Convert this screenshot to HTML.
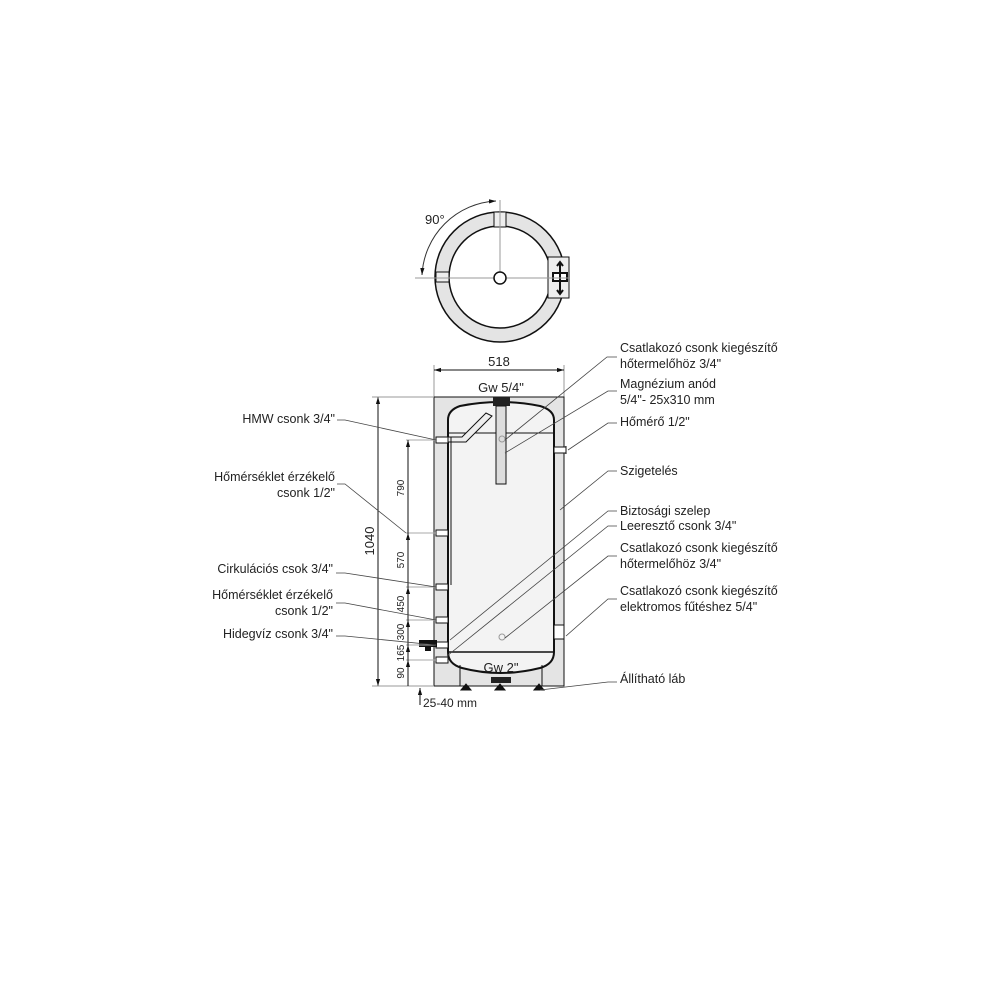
<!DOCTYPE html>
<html><head><meta charset="utf-8"><style>body{margin:0;background:#fff}svg{display:block}text{font-family:"Liberation Sans",sans-serif;fill:#222}</style></head><body>
<svg width="1000" height="1000" viewBox="0 0 1000 1000" xmlns="http://www.w3.org/2000/svg">
<defs><marker id="a" viewBox="0 0 10 10" refX="10" refY="5" markerWidth="7" markerHeight="7" orient="auto-start-reverse"><path d="M0,2 L10,5 L0,8z" fill="#111"/></marker></defs>
<!-- top view -->
<circle cx="500" cy="277" r="58" fill="none" stroke="#e4e4e4" stroke-width="14"/>
<circle cx="500" cy="277" r="65" fill="none" stroke="#111" stroke-width="1.5"/>
<circle cx="500" cy="277" r="51" fill="none" stroke="#111" stroke-width="1.5"/>
<rect x="494" y="212" width="12" height="15" fill="#eee" stroke="#111"/>
<rect x="436" y="272" width="13" height="10" fill="#eee" stroke="#111"/>
<rect x="548" y="257" width="21" height="41" fill="#eee" stroke="#111"/>
<rect x="553" y="273" width="14" height="8" fill="#fff" stroke="#111" stroke-width="2"/>
<path d="M560,263 v30 M557,266 l3,-4 l3,4 M557,290 l3,4 l3,-4" stroke="#111" stroke-width="2" fill="none"/>
<line x1="500" y1="200" x2="500" y2="277" stroke="#999"/>
<line x1="415" y1="278" x2="570" y2="278" stroke="#999"/>
<circle cx="500" cy="278" r="6" fill="#fff" stroke="#111" stroke-width="1.5"/>
<path d="M496,201 A78,78 0 0 0 422,275" fill="none" stroke="#333" marker-start="url(#a)" marker-end="url(#a)"/>
<text x="425" y="224" font-size="13" fill="#555">90°</text>
<!-- 518 dim -->
<line x1="434" y1="365" x2="434" y2="397" stroke="#999"/><line x1="564" y1="365" x2="564" y2="397" stroke="#999"/>
<line x1="434" y1="370" x2="564" y2="370" stroke="#111" marker-start="url(#a)" marker-end="url(#a)"/>
<text x="499" y="366" font-size="13" text-anchor="middle">518</text>
<!-- insulation -->
<rect x="434" y="397" width="130" height="289" fill="#e4e4e4" stroke="#111" stroke-width="1"/>
<path d="M448,652 L448,420 Q448,410 460,406 Q500,398 540,406 Q554,410 554,420 L554,652 Q554,664 540,668 Q500,678 462,668 Q448,664 448,652Z" fill="#f3f3f3" stroke="#111" stroke-width="2"/>
<line x1="448" y1="433" x2="554" y2="433" stroke="#111" stroke-width="1"/>
<line x1="448" y1="652" x2="554" y2="652" stroke="#111" stroke-width="1.5"/>
<rect x="493" y="397" width="17" height="9" fill="#222"/>
<rect x="496" y="406" width="10" height="78" fill="#ddd" stroke="#111"/>
<circle cx="502" cy="439" r="3" fill="none" stroke="#999"/><circle cx="502" cy="637" r="3" fill="none" stroke="#999"/>
<path d="M448,437 L462,437 L486,413 L492,416 L466,442 L448,442" fill="#eee" stroke="#111"/>
<line x1="451" y1="437" x2="451" y2="585" stroke="#111"/>
<text x="501" y="672" font-size="13" text-anchor="middle">Gw 2"</text>
<text x="501" y="392" font-size="13" text-anchor="middle">Gw 5/4"</text>
<rect x="491" y="677" width="20" height="6" fill="#222"/>
<line x1="460" y1="665" x2="460" y2="686" stroke="#111"/><line x1="542" y1="665" x2="542" y2="686" stroke="#111"/>
<path d="M461,690 l5,-6 l5,6z M495,690 l5,-6 l5,6z M534,690 l5,-6 l5,6z" fill="#111" stroke="#111"/>
<!-- ports -->
<g fill="#fff" stroke="#111">
<rect x="436" y="437" width="12" height="6"/><rect x="436" y="530" width="12" height="6"/><rect x="436" y="584" width="12" height="6"/>
<rect x="436" y="617" width="12" height="6"/><rect x="436" y="642" width="12" height="6"/><rect x="436" y="657" width="12" height="6"/>
<rect x="554" y="447" width="12" height="6"/><rect x="554" y="625" width="10" height="14"/>
</g>
<rect x="419" y="640" width="18" height="7" fill="#111"/><rect x="425" y="646" width="6" height="5" fill="#111"/>
<line x1="566" y1="446" x2="566" y2="454" stroke="#111"/>
<!-- dims left -->
<line x1="378" y1="397" x2="378" y2="686" stroke="#111" marker-start="url(#a)" marker-end="url(#a)"/>
<text transform="translate(374,541) rotate(-90)" font-size="13" text-anchor="middle">1040</text>
<line x1="372" y1="397" x2="434" y2="397" stroke="#999"/><line x1="372" y1="686" x2="434" y2="686" stroke="#999"/>
<g stroke="#aaa"><line x1="406" y1="440" x2="436" y2="440"/><line x1="406" y1="533" x2="436" y2="533"/><line x1="406" y1="587" x2="436" y2="587"/><line x1="406" y1="620" x2="436" y2="620"/><line x1="406" y1="645" x2="436" y2="645"/><line x1="406" y1="660" x2="436" y2="660"/></g>
<g stroke="#111" marker-start="url(#a)"><line x1="408" y1="440" x2="408" y2="533"/><line x1="408" y1="533" x2="408" y2="587"/><line x1="408" y1="587" x2="408" y2="620"/><line x1="408" y1="620" x2="408" y2="645"/><line x1="408" y1="645" x2="408" y2="660"/><line x1="408" y1="660" x2="408" y2="686"/></g>
<g font-size="10"><text transform="translate(404,488) rotate(-90)" text-anchor="middle">790</text><text transform="translate(404,560) rotate(-90)" text-anchor="middle">570</text><text transform="translate(404,604) rotate(-90)" text-anchor="middle">450</text><text transform="translate(404,632) rotate(-90)" text-anchor="middle">300</text><text transform="translate(404,653) rotate(-90)" text-anchor="middle">165</text><text transform="translate(404,673) rotate(-90)" text-anchor="middle">90</text></g>
<line x1="420" y1="688" x2="420" y2="705" stroke="#111" marker-start="url(#a)"/>
<text x="423" y="707" font-size="12">25-40 mm</text>
<!-- left labels -->
<g font-size="12.5" text-anchor="end"><text x="335" y="423">HMW csonk 3/4"</text><text x="335" y="481">Hőmérséklet érzékelő</text><text x="335" y="497">csonk 1/2"</text><text x="333" y="573">Cirkulációs csok 3/4"</text><text x="333" y="599">Hőmérséklet érzékelő</text><text x="333" y="615">csonk 1/2"</text><text x="333" y="638">Hidegvíz csonk 3/4"</text></g>
<g stroke="#444" fill="none" stroke-width="0.8"><polyline points="337,420 345,420 436,440"/><polyline points="337,484 345,484 406,533"/><polyline points="336,573 345,573 436,587"/><polyline points="336,603 345,603 436,620"/><polyline points="336,636 345,636 436,645"/>
<polyline points="617,357 607,357 505,440"/><polyline points="617,391 608,391 505,453"/><polyline points="617,423 608,423 568,450"/><polyline points="617,471 608,471 560,510"/><polyline points="617,511 608,511 450,640"/><polyline points="617,526 608,526 447,656"/><polyline points="617,556 608,556 505,638"/><polyline points="617,599 608,599 566,636"/><polyline points="617,682 608,682 540,690"/></g>
<g font-size="12.5"><text x="620" y="352">Csatlakozó csonk kiegészítő</text><text x="620" y="368">hőtermelőhöz 3/4"</text><text x="620" y="388">Magnézium anód</text><text x="620" y="404">5/4"- 25x310 mm</text><text x="620" y="426">Hőmérő 1/2"</text><text x="620" y="475">Szigetelés</text><text x="620" y="515">Biztosági szelep</text><text x="620" y="530">Leeresztő csonk 3/4"</text><text x="620" y="552">Csatlakozó csonk kiegészítő</text><text x="620" y="568">hőtermelőhöz 3/4"</text><text x="620" y="595">Csatlakozó csonk kiegészítő</text><text x="620" y="611">elektromos fűtéshez 5/4"</text><text x="620" y="683">Állítható láb</text></g>
</svg>
</body></html>
